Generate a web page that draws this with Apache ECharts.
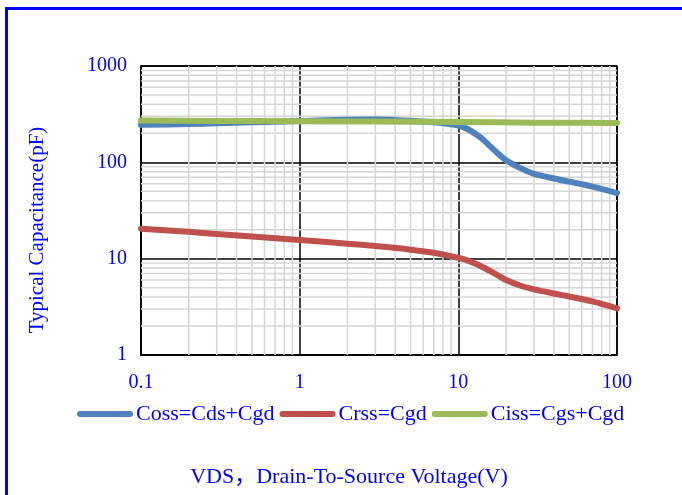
<!DOCTYPE html>
<html>
<head>
<meta charset="utf-8">
<script src="https://cdn.jsdelivr.net/npm/echarts@6/dist/echarts.min.js"></script>
<style>
  html, body { margin: 0; padding: 0; background: #fff; }
  #chart { width: 682px; height: 495px; }
</style>
</head>
<body>
<div id="chart"></div>
<script>
// Drain-source voltage axis (V) and capacitance curves (pF)
const xTicks = [0.1, 1, 10, 100];
const yTicks = [1, 10, 100, 1000];

const cossV = [0.1, 0.2, 0.3, 0.5, 1, 2, 3, 5, 7, 9, 10, 11, 12, 14, 17, 20, 25, 30, 40, 50, 70, 100];
const cossC = [245, 250, 254, 260, 268, 277, 278, 270, 260, 248, 240, 228, 212, 178, 132, 105, 86, 76, 68, 63, 56, 48];

const crssV = [0.1, 0.2, 0.3, 0.5, 1, 2, 3, 5, 7, 9, 10, 11, 12, 14, 17, 20, 25, 30, 40, 50, 70, 100];
const crssC = [20.5, 19, 18, 17, 15.6, 14.3, 13.5, 12.4, 11.5, 10.6, 10.2, 9.8, 9.3, 8.3, 7.0, 6.0, 5.2, 4.8, 4.35, 4.05, 3.6, 3.05];

const cissV = [0.1, 0.3, 1, 3, 10, 30, 100];
const cissC = [271, 269, 267, 265, 262, 258, 256];

const seriesNames = ['Coss=Cds+Cgd', 'Crss=Cgd', 'Ciss=Cgs+Cgd'];
const seriesColors = ['#4f81bd', '#c0504d', '#9bbb59'];

// light minor grid lines at 2..9 of each decade: [x, y, kind] (kind 0 = vertical, 1 = horizontal)
const xMin = xTicks[0], xMax = xTicks[xTicks.length - 1];
const yMin = yTicks[0], yMax = yTicks[yTicks.length - 1];
const minorLines = [];
for (let d = 0; d < xTicks.length - 1; d++) {
  for (let k = 2; k <= 9; k++) minorLines.push([+(xTicks[d] * k).toPrecision(3), yMin, 0]);
}
for (let d = 0; d < yTicks.length - 1; d++) {
  for (let k = 2; k <= 9; k++) minorLines.push([xMin, +(yTicks[d] * k).toPrecision(3), 1]);
}

const pairs = (xs, ys) => xs.map((x, i) => [x, ys[i]]);

const textBlue = '#0000ff';
const serif = '"Liberation Serif", "Times New Roman", "Noto Sans CJK SC", serif';
const legendIcon = 'path://M3,0 L53,0 A3,3 0 0 1 53,6 L3,6 A3,3 0 0 1 3,0 Z';

const chart = echarts.init(document.getElementById('chart'), null, { renderer: 'canvas' });

chart.setOption({
  animation: false,
  backgroundColor: '#ffffff',
  grid: {
    left: 141, top: 66, right: 65, bottom: 140,
    show: true, borderColor: '#000', borderWidth: 1.5,
    containLabel: false
  },
  xAxis: {
    type: 'log', logBase: 10, min: xMin, max: xMax,
    axisLine: { show: true, lineStyle: { color: '#000', width: 1.5 } },
    axisTick: { show: false },
    axisLabel: {
      color: textBlue, fontFamily: serif, fontSize: 20, margin: 18,
      formatter: v => String(+v.toPrecision(3))
    },
    splitLine: { show: true, lineStyle: { color: '#000', width: 1.5 } }
  },
  yAxis: {
    type: 'log', logBase: 10, min: yMin, max: yMax,
    axisLine: { show: true, lineStyle: { color: '#000', width: 1.5 } },
    axisTick: { show: false },
    axisLabel: {
      color: textBlue, fontFamily: serif, fontSize: 20, margin: 14,
      formatter: v => String(+v.toPrecision(4))
    },
    splitLine: { show: true, lineStyle: { color: '#000', width: 1.5 } }
  },
  legend: {
    left: 77, top: 403, padding: 0,
    itemWidth: 56, itemHeight: 6, itemGap: 5,
    data: seriesNames.map(n => ({ name: n, icon: legendIcon })),
    textStyle: { color: textBlue, fontFamily: serif, fontSize: 22, padding: [0, 0, 0, -2] }
  },
  graphic: [
    { type: 'rect', shape: { x: 5, y: 7, width: 677, height: 3 }, style: { fill: '#0000ff' }, silent: true },
    { type: 'rect', shape: { x: 5, y: 7, width: 3, height: 488 }, style: { fill: '#0000ff' }, silent: true },
    {
      type: 'text', x: 37, y: 230, rotation: Math.PI / 2,
      style: {
        text: 'Typical Capacitance(pF)', fill: textBlue,
        font: '21px ' + serif, textAlign: 'center', textVerticalAlign: 'middle'
      }
    },
    {
      type: 'text', x: 349, y: 477,
      style: {
        text: 'VDS，Drain-To-Source Voltage(V)', fill: textBlue,
        font: '22px ' + serif, textAlign: 'center', textVerticalAlign: 'middle'
      }
    }
  ],
  series: [
    {
      name: 'minor-grid', type: 'custom', z: 1, silent: true,
      data: minorLines,
      renderItem: (params, api) => {
        const kind = api.value(2);
        const v = kind === 0 ? api.value(0) : api.value(1);
        const p1 = kind === 0 ? api.coord([v, yMin]) : api.coord([xMin, v]);
        const p2 = kind === 0 ? api.coord([v, yMax]) : api.coord([xMax, v]);
        return {
          type: 'line',
          shape: { x1: p1[0], y1: p1[1], x2: p2[0], y2: p2[1] },
          style: { stroke: '#d6d6d6', lineWidth: 1.5 }
        };
      }
    },
    {
      name: seriesNames[0], type: 'line', z: 3, smooth: 0.3, symbol: 'none',
      data: pairs(cossV, cossC),
      itemStyle: { color: seriesColors[0] },
      lineStyle: { color: seriesColors[0], width: 6, cap: 'round', join: 'round' }
    },
    {
      name: seriesNames[1], type: 'line', z: 3, smooth: 0.3, symbol: 'none',
      data: pairs(crssV, crssC),
      itemStyle: { color: seriesColors[1] },
      lineStyle: { color: seriesColors[1], width: 6, cap: 'round', join: 'round' }
    },
    {
      name: seriesNames[2], type: 'line', z: 4, smooth: 0.3, symbol: 'none',
      data: pairs(cissV, cissC),
      itemStyle: { color: seriesColors[2] },
      lineStyle: { color: seriesColors[2], width: 6, cap: 'round', join: 'round' }
    }
  ]
});
</script>
</body>
</html>
